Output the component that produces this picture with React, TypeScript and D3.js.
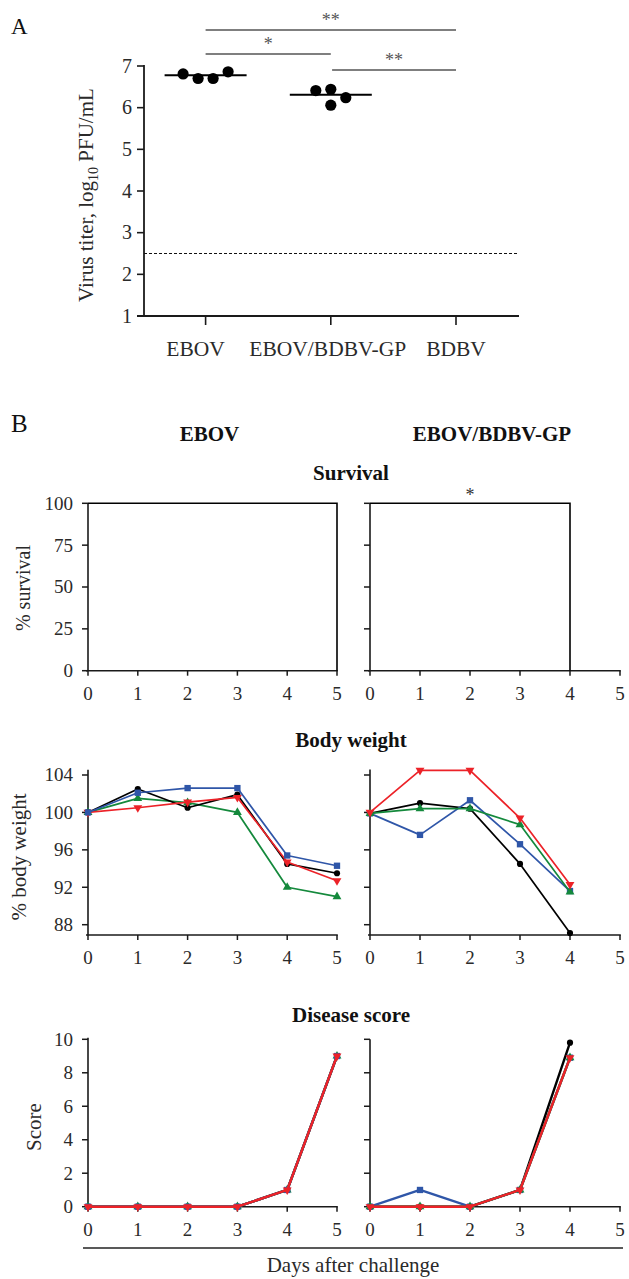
import React from "react";
import * as d3 from "d3";

// ---------- Panel A data ----------
const titerGroups = ["EBOV", "EBOV/BDBV-GP", "BDBV"];
const titerEBOV = [6.81, 6.7, 6.7, 6.86];
const titerChimera = [6.41, 6.44, 6.24, 6.06];
const titerMedians = [6.78, 6.31];
const titerTicks = [1, 2, 3, 4, 5, 6, 7];
const detectionLimit = 2.5;
const swarmEBOV = [-1.5, -0.5, 0.5, 1.5];
const swarmChimera = [-1, 0, 1, 0];
const sigFrom = [0, 0, 1];
const sigTo = [2, 1, 2];
const sigLabels = ["**", "*", "**"];

// ---------- Panel B data ----------
const dayTicks = [0, 1, 2, 3, 4, 5];
const daysEBOV = [0, 1, 2, 3, 4, 5];
const daysChimera = [0, 1, 2, 3, 4];
const survivalTicks = [0, 25, 50, 75, 100];
const survivalDaysEBOV = [0, 5];
const survivalEBOV = [100, 0];
const survivalDaysChimera = [0, 4];
const survivalChimera = [100, 0];

const weightTicks = [88, 92, 96, 100, 104];
const weightEBOVBlack = [100, 102.5, 100.5, 101.9, 94.5, 93.5];
const weightEBOVBlue = [100, 102.1, 102.6, 102.6, 95.4, 94.3];
const weightEBOVGreen = [100, 101.5, 101.05, 100.0, 92.0, 91.0];
const weightEBOVRed = [100, 100.5, 101.1, 101.6, 94.7, 92.7];
const weightChimeraBlack = [99.9, 101.0, 100.4, 94.5, 87.1];
const weightChimeraBlue = [99.9, 97.6, 101.3, 96.6, 91.6];
const weightChimeraGreen = [99.9, 100.4, 100.4, 98.7, 91.5];
const weightChimeraRed = [100, 104.5, 104.5, 99.4, 92.3];

const scoreTicks = [0, 2, 4, 6, 8, 10];
const scoreEBOVBlack = [0, 0, 0, 0, 1, 9];
const scoreEBOVBlue = [0, 0, 0, 0, 1, 9];
const scoreEBOVGreen = [0, 0, 0, 0, 1, 9];
const scoreEBOVRed = [0, 0, 0, 0, 1, 9];
const scoreChimeraBlack = [0, 0, 0, 1, 9.8];
const scoreChimeraBlue = [0, 1, 0, 1, 8.9];
const scoreChimeraGreen = [0, 0, 0, 1, 8.9];
const scoreChimeraRed = [0, 0, 0, 1, 8.9];

const seriesColors = ["#000000", "#2f56a8", "#14893c", "#ec2228"];
const seriesShapes = ["circle", "square", "triUp", "triDown"];

const FONT = "'Liberation Serif', 'Times New Roman', serif";
const AX = "#1a1a1a";
const TXT = "#2a2a2a";
const TICK_FS = 19;

type Series = { values: number[]; color: string; shape: string };

function Marker({ shape, x, y, color, scale = 1 }: any) {
  let path: string;
  let rot = 0;
  if (shape === "circle") path = d3.symbol(d3.symbolCircle, 30 * scale)()!;
  else if (shape === "square") path = d3.symbol(d3.symbolSquare, 40 * scale)()!;
  else {
    path = d3.symbol(d3.symbolTriangle, 34 * scale)()!;
    if (shape === "triDown") rot = 180;
  }
  return <path d={path} transform={`translate(${x},${y}) rotate(${rot})`} fill={color} />;
}

function LinePanel({
  xRange, yScale, yTicks, yExtent, series, days, showLabels, labelX, lineWidth, markerScale, survival,
}: any) {
  const x = d3.scaleLinear().domain([0, 5]).range(xRange);
  const y0 = yScale(yExtent[0]);
  const y1 = yScale(yExtent[1]);
  const line = d3.line<number>().x((_, i) => x(days[i])).y((d) => yScale(d));
  return (
    <g>
      <line x1={x(0)} x2={x(0)} y1={y0} y2={y1} stroke={AX} strokeWidth={1.6} />
      <line x1={x(0) - 2} x2={x(5) + 0.8} y1={y0} y2={y0} stroke={AX} strokeWidth={1.6} />
      {yTicks.map((t: number) => (
        <g key={"y" + t}>
          <line x1={x(0) - 6} x2={x(0)} y1={yScale(t)} y2={yScale(t)} stroke={AX} strokeWidth={1.5} />
          {showLabels && (
            <text x={labelX} y={yScale(t)} dy="0.34em" textAnchor="end" fontSize={TICK_FS} fontFamily={FONT} fill={TXT}>
              {t}
            </text>
          )}
        </g>
      ))}
      {dayTicks.map((t) => (
        <g key={"x" + t}>
          <line x1={x(t)} x2={x(t)} y1={y0} y2={y0 + 5} stroke={AX} strokeWidth={1.5} />
          <text x={x(t)} y={y0 + 29} textAnchor="middle" fontSize={TICK_FS} fontFamily={FONT} fill={TXT}>
            {t}
          </text>
        </g>
      ))}
      {survival && (
        <path
          d={d3.line<number>().x((_, i) => x(survival.days[i])).y((d) => yScale(d)).curve(d3.curveStepAfter)(survival.values)!}
          fill="none"
          stroke="#000"
          strokeWidth={1.6}
        />
      )}
      {series &&
        series.map((s: Series, k: number) => (
          <g key={k}>
            <path d={line(s.values)!} fill="none" stroke={s.color} strokeWidth={lineWidth} strokeLinejoin="round" />
            {s.values.map((v, i) => (
              <Marker key={i} shape={s.shape} x={x(days[i])} y={yScale(v)} color={s.color} scale={markerScale} />
            ))}
          </g>
        ))}
    </g>
  );
}

function mk(valsList: number[][], order: number[]): Series[] {
  return order.map((i) => ({ values: valsList[i], color: seriesColors[i], shape: seriesShapes[i] }));
}

export default function App() {
  const yT = d3.scaleLinear().domain([1, 7]).range([316, 66]);
  const xT = d3.scalePoint<string>().domain(titerGroups).range([205.6, 456]);
  const sigY = [30, 54, 70];
  const labelShift = [-10, -3, 0];
  const dotStep = 15;
  const dotR = 5.6;

  const LX = [88, 337];
  const RX = [370, 620];
  const ySurv = d3.scaleLinear().domain([0, 100]).range([670.7, 503.3]);
  const yW = d3.scaleLinear().domain([88, 104]).range([924.7, 775]);
  const yS = d3.scaleLinear().domain([0, 10]).range([1206.7, 1039.3]);

  const wE = mk([weightEBOVBlack, weightEBOVBlue, weightEBOVGreen, weightEBOVRed], [2, 0, 3, 1]);
  const wC = mk([weightChimeraBlack, weightChimeraBlue, weightChimeraGreen, weightChimeraRed], [0, 1, 2, 3]);
  const sE = mk([scoreEBOVBlack, scoreEBOVBlue, scoreEBOVGreen, scoreEBOVRed], [0, 2, 1, 3]);
  const sC = mk([scoreChimeraBlack, scoreChimeraBlue, scoreChimeraGreen, scoreChimeraRed], [0, 1, 2, 3]);

  const boldTitle = { fontFamily: FONT, fontWeight: 700, fontSize: 21, fill: "#111" } as any;

  return (
    <svg width={629} height={1279} style={{ position: "absolute", left: 0, top: 0 }} fontFamily={FONT}>
      <rect width={629} height={1279} fill="#fff" />
      {/* ===== Panel A ===== */}
      <text x={11} y={34} fontSize={23} fill="#111">A</text>
      {sigLabels.map((lab, i) => {
        const xa = xT(titerGroups[sigFrom[i]])! + (sigFrom[i] === 1 ? 1.3 : 0);
        const xb = xT(titerGroups[sigTo[i]])!;
        return (
          <g key={i}>
            <line x1={xa} x2={xb} y1={sigY[i]} y2={sigY[i]} stroke="#555" strokeWidth={1.4} />
            <text x={(xa + xb) / 2} y={sigY[i] - 4} textAnchor="middle" fontSize={18} fill="#555">{lab}</text>
          </g>
        );
      })}
      <line x1={144} x2={144} y1={yT(1)} y2={yT(7) - 1} stroke={AX} strokeWidth={1.8} />
      <line x1={137} x2={519} y1={yT(1)} y2={yT(1)} stroke={AX} strokeWidth={1.8} />
      {titerTicks.map((t) => (
        <g key={t}>
          <line x1={137} x2={144} y1={yT(t)} y2={yT(t)} stroke={AX} strokeWidth={1.6} />
          <text x={132} y={yT(t)} dy="0.34em" textAnchor="end" fontSize={20} fill={TXT}>{t}</text>
        </g>
      ))}
      {titerGroups.map((g, i) => (
        <g key={g}>
          <line x1={xT(g)} x2={xT(g)} y1={yT(1)} y2={yT(1) + 9} stroke={AX} strokeWidth={1.6} />
          <text x={xT(g)! + labelShift[i]} y={356} textAnchor="middle" fontSize={21.5} fill={TXT}>{g}</text>
        </g>
      ))}
      <line x1={144} x2={519} y1={yT(detectionLimit)} y2={yT(detectionLimit)} stroke="#111" strokeWidth={1.2} strokeDasharray="3,2" />
      {titerMedians.map((m, i) => (
        <line key={i} x1={xT(titerGroups[i])! - 41} x2={xT(titerGroups[i])! + 41} y1={yT(m)} y2={yT(m)} stroke="#000" strokeWidth={2} />
      ))}
      {titerEBOV.map((v, i) => (
        <circle key={"e" + i} cx={xT("EBOV")! + swarmEBOV[i] * dotStep} cy={yT(v)} r={dotR} fill="#000" />
      ))}
      {titerChimera.map((v, i) => (
        <circle key={"c" + i} cx={xT("EBOV/BDBV-GP")! + swarmChimera[i] * dotStep} cy={yT(v)} r={dotR} fill="#000" />
      ))}
      <text transform={`translate(93,195) rotate(-90)`} textAnchor="middle" fontSize={21} fill={TXT}>
        Virus titer, log<tspan fontSize={14} dy={5}>10</tspan><tspan dy={-5}> PFU/mL</tspan>
      </text>

      {/* ===== Panel B ===== */}
      <text x={11} y={432} fontSize={25} fill="#111">B</text>
      <text x={(LX[0] + LX[1]) / 2 - 3} y={441} textAnchor="middle" {...boldTitle}>EBOV</text>
      <text x={(RX[0] + RX[1]) / 2 - 3} y={441} textAnchor="middle" {...boldTitle}>EBOV/BDBV-GP</text>

      <text x={351} y={480} textAnchor="middle" {...boldTitle}>Survival</text>
      <LinePanel xRange={LX} yScale={ySurv} yTicks={survivalTicks} yExtent={[0, 100]} days={daysEBOV} showLabels labelX={73}
        survival={{ days: survivalDaysEBOV, values: survivalEBOV }} />
      <LinePanel xRange={RX} yScale={ySurv} yTicks={survivalTicks} yExtent={[0, 100]} days={daysChimera} showLabels={false}
        survival={{ days: survivalDaysChimera, values: survivalChimera }} />
      <text x={d3.scaleLinear().domain([0, 5]).range(RX)(2)} y={501} textAnchor="middle" fontSize={18} fill="#333">*</text>
      <text transform={`translate(30,588) rotate(-90)`} textAnchor="middle" fontSize={20} fill={TXT}>% survival</text>

      <text x={351} y={747} textAnchor="middle" {...boldTitle}>Body weight</text>
      <LinePanel xRange={LX} yScale={yW} yTicks={weightTicks} yExtent={[86.9, 104.55]} days={daysEBOV} showLabels labelX={73}
        series={wE} lineWidth={1.7} markerScale={1} />
      <LinePanel xRange={RX} yScale={yW} yTicks={weightTicks} yExtent={[86.9, 104.6]} days={daysChimera} showLabels={false}
        series={wC} lineWidth={1.7} markerScale={1} />
      <text transform={`translate(26,857) rotate(-90)`} textAnchor="middle" fontSize={21} fill={TXT}>% body weight</text>

      <text x={351} y={1022} textAnchor="middle" {...boldTitle}>Disease score</text>
      <LinePanel xRange={LX} yScale={yS} yTicks={scoreTicks} yExtent={[0, 10.1]} days={daysEBOV} showLabels labelX={73}
        series={sE} lineWidth={2.4} markerScale={1} />
      <LinePanel xRange={RX} yScale={yS} yTicks={scoreTicks} yExtent={[0, 10]} days={daysChimera} showLabels={false}
        series={sC} lineWidth={2.4} markerScale={1} />
      <text transform={`translate(41,1127) rotate(-90)`} textAnchor="middle" fontSize={21} fill={TXT}>Score</text>

      <line x1={83} x2={623} y1={1248} y2={1248} stroke="#222" strokeWidth={1.6} />
      <text x={353} y={1272} textAnchor="middle" fontSize={21} fill={TXT}>Days after challenge</text>
    </svg>
  );
}
